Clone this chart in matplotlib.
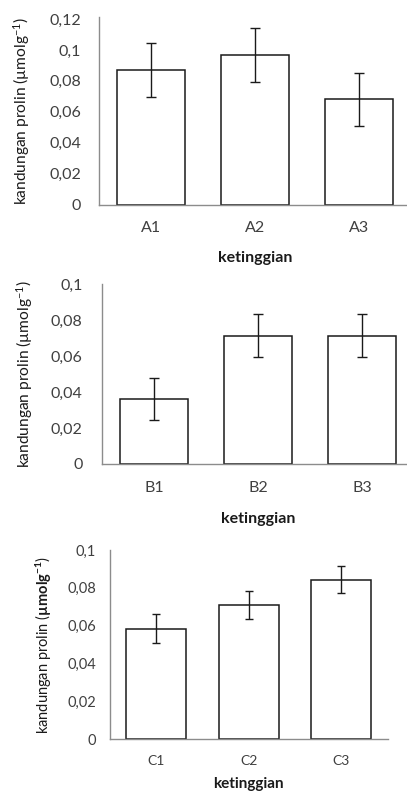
import matplotlib
matplotlib.use("Agg")
import matplotlib.pyplot as plt

# -----------------------------
# Data
# -----------------------------
cat_a = ["A1", "A2", "A3"]
val_a = [0.087, 0.0965, 0.068]
err_a = [0.0175, 0.0175, 0.0172]

cat_b = ["B1", "B2", "B3"]
val_b = [0.036, 0.0713, 0.0713]
err_b = [0.0118, 0.0118, 0.0118]

cat_c = ["C1", "C2", "C3"]
val_c = [0.0585, 0.0710, 0.0843]
err_c = [0.0076, 0.0075, 0.0072]

yticks_a = [0, 0.02, 0.04, 0.06, 0.08, 0.1, 0.12]
yticks_bc = [0, 0.02, 0.04, 0.06, 0.08, 0.1]

# -----------------------------
# Style
# -----------------------------
plt.rcParams['font.family'] = ['Lato', 'DejaVu Sans']
plt.rcParams['mathtext.fontset'] = 'custom'
plt.rcParams['mathtext.rm'] = 'Lato'
plt.rcParams['mathtext.bf'] = 'Lato:bold'
plt.rcParams['mathtext.it'] = 'Lato:italic'

W, H = 407, 793
fig = plt.figure(figsize=(W / 100, H / 100), dpi=100)

TXT = "#404040"
SPINE = "#8c8c8c"


def fmt(v):
    if v == 0:
        return "0"
    s = ("%.2f" % v).rstrip("0")
    return s.replace(".", ",")


def panel(left, right, zero_y, top_y, ymax, cats, vals, errs, yticks,
          tick_fs, cat_fs, xl_fs, ylabel, yl_fs, ylab_x, xlab_x, xlab_y, cap, ypad, xpad):
    # pixel box -> figure fractions
    ax = fig.add_axes([left / W, 1 - zero_y / H, (right - left) / W, (zero_y - top_y) / H])
    x = range(len(cats))
    ax.bar(x, vals, width=0.65, color="white", edgecolor="#1a1a1a", linewidth=1.1,
           yerr=errs, error_kw=dict(ecolor="#1a1a1a", elinewidth=1.0, capsize=cap, capthick=1.0))
    ax.set_xlim(-0.5, len(cats) - 0.5)
    ax.set_ylim(0, ymax)
    ax.set_xticks(list(x))
    ax.set_xticklabels(cats, fontsize=cat_fs, color=TXT)
    ax.set_yticks(yticks)
    ax.set_yticklabels([fmt(v) for v in yticks], fontsize=tick_fs, color=TXT)
    ax.tick_params(axis="both", length=0)
    ax.tick_params(axis="y", pad=ypad)
    ax.tick_params(axis="x", pad=xpad)
    for s in ["top", "right"]:
        ax.spines[s].set_visible(False)
    for s in ["left", "bottom"]:
        ax.spines[s].set_color(SPINE)
        ax.spines[s].set_linewidth(1.0)
    ax.set_ylabel(ylabel, fontsize=yl_fs, color="#1a1a1a")
    ax.yaxis.set_label_coords(ylab_x / W, 1 - (zero_y + top_y) / 2 / H, transform=fig.transFigure)
    ax.set_xlabel("ketinggian", fontsize=xl_fs, fontweight="bold", color="#1a1a1a")
    ax.xaxis.set_label_coords(xlab_x / W, 1 - xlab_y / H, transform=fig.transFigure)
    return ax


ylab_ab = "kandungan prolin (µmolg$^{-1}$)"
ylab_c = "kandungan prolin ($\\mathbf{µmolg^{-1}}$)"

panel(99, 411, 204.5, 17.5, 0.121, cat_a, val_a, err_a, yticks_a,
      11.5, 11.5, 11.5, ylab_ab, 11.2, 32, 255, 251, 3.6, 13, 12)
panel(102, 414, 464, 284, 0.1, cat_b, val_b, err_b, yticks_bc,
      11.5, 11.5, 11.5, ylab_ab, 11.2, 35, 258, 512, 3.6, 14, 12.5)
panel(110, 387.5, 739.3, 550, 0.1, cat_c, val_c, err_c, yticks_bc,
      10.5, 10, 11, ylab_c, 10.5, 54, 248, 777, 3, 10, 11)

fig.savefig("out.png", dpi=100)
